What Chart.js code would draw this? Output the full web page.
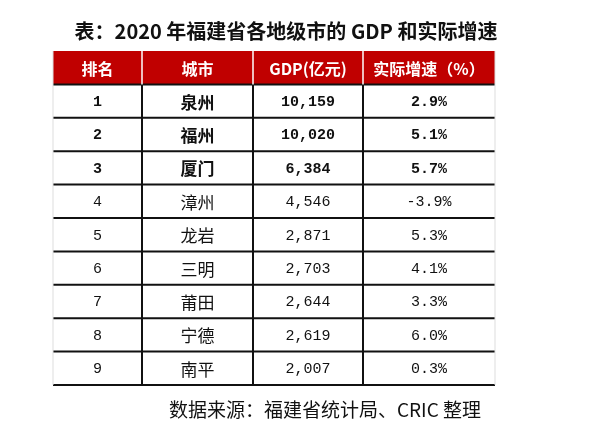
<!DOCTYPE html>
<html>
<head>
<meta charset="utf-8">
<script src="https://cdn.jsdelivr.net/npm/chart.js@4/dist/chart.umd.min.js"></script>
<style>
  body { margin: 0; background: #fff; }
</style>
</head>
<body>
<canvas id="tabela" width="600" height="441"></canvas>
<script>
// dados da tabela
const titulo = '表：2020 年福建省各地级市的 GDP 和实际增速';
const fonte = '数据来源：福建省统计局、CRIC 整理';
const cabecalho = ['排名', '城市', 'GDP(亿元)', '实际增速（%）'];
const ranking = ['1', '2', '3', '4', '5', '6', '7', '8', '9'];
const cidades = ['泉州', '福州', '厦门', '漳州', '龙岩', '三明', '莆田', '宁德', '南平'];
const gdp = ['10,159', '10,020', '6,384', '4,546', '2,871', '2,703', '2,644', '2,619', '2,007'];
const crescimento = ['2.9%', '5.1%', '5.7%', '-3.9%', '5.3%', '4.1%', '3.3%', '6.0%', '0.3%'];
const colunas = [0, 89, 200, 310, 442]; // limites das colunas

const tabelaPlugin = {
    id: 'tabelaPlugin',
    afterDraw(chart) {
        const ctx = chart.ctx;
        const sx = chart.scales.x, sy = chart.scales.y;
        const X = v => sx.getPixelForValue(v);
        const Y = v => sy.getPixelForValue(v);
        const linhas = [cabecalho].concat(ranking.map((r, i) => [r, cidades[i], gdp[i], crescimento[i]]));

        ctx.save();
        // titulo
        ctx.fillStyle = '#111';
        ctx.font = 'bold 20px "Noto Sans CJK SC"';
        ctx.textAlign = 'center';
        ctx.textBaseline = 'middle';
        ctx.fillText(titulo, 286, 31);

        // cabecalho vermelho
        ctx.fillStyle = '#c00000';
        ctx.fillRect(X(0), Y(0), X(442) - X(0), Y(1) - Y(0));

        linhas.forEach((linha, r) => {
            linha.forEach((txt, c) => {
                const cx = (X(colunas[c]) + X(colunas[c + 1])) / 2;
                const cy = (Y(r) + Y(r + 1)) / 2;
                const negrito = r <= 3;
                const numero = r > 0 && c !== 1;
                ctx.fillStyle = r === 0 ? '#fff' : '#111';
                ctx.font = (negrito ? 'bold ' : '') + (r === 0 ? '16px "Noto Sans CJK SC"' :
                    numero ? '15px "Liberation Mono"' : '17px "Noto Sans CJK SC"');
                ctx.fillText(txt, cx, cy + 1);
            });
        });

        // bordas
        ctx.strokeStyle = '#111';
        ctx.lineWidth = 2;
        for (let r = 1; r <= linhas.length; r++) {
            ctx.beginPath();
            ctx.moveTo(X(0), Y(r)); ctx.lineTo(X(442), Y(r));
            ctx.stroke();
        }
        colunas.forEach((c, i) => {
            ctx.beginPath();
            ctx.moveTo(X(c), Y(i === 0 || i === colunas.length - 1 ? 0 : 1));
            ctx.lineTo(X(c), Y(linhas.length));
            ctx.strokeStyle = (i === 0 || i === colunas.length - 1) ? '#ddd' : '#111';
            ctx.lineWidth = (i === 0 || i === colunas.length - 1) ? 1 : 2;
            ctx.stroke();
        });
        // separadores do cabecalho
        ctx.strokeStyle = '#fff';
        ctx.lineWidth = 1.5;
        for (let i = 1; i < colunas.length - 1; i++) {
            ctx.beginPath();
            ctx.moveTo(X(colunas[i]), Y(0)); ctx.lineTo(X(colunas[i]), Y(1));
            ctx.stroke();
        }

        // fonte
        ctx.fillStyle = '#111';
        ctx.font = '19px "Noto Sans CJK SC"';
        ctx.fillText(fonte, 325, 410);
        ctx.restore();
    }
};

new Chart(document.getElementById('tabela'), {
    type: 'scatter',
    data: { datasets: [{ data: [] }] },
    options: {
        responsive: false,
        animation: false,
        devicePixelRatio: 1,
        layout: { padding: { left: 53, right: 105, top: 51, bottom: 56 } },
        scales: {
            x: { display: false, min: 0, max: 442 },
            y: { display: false, min: 0, max: 10, reverse: true }
        },
        plugins: { legend: { display: false }, tooltip: { enabled: false } }
    },
    plugins: [tabelaPlugin]
});
</script>
</body>
</html>
